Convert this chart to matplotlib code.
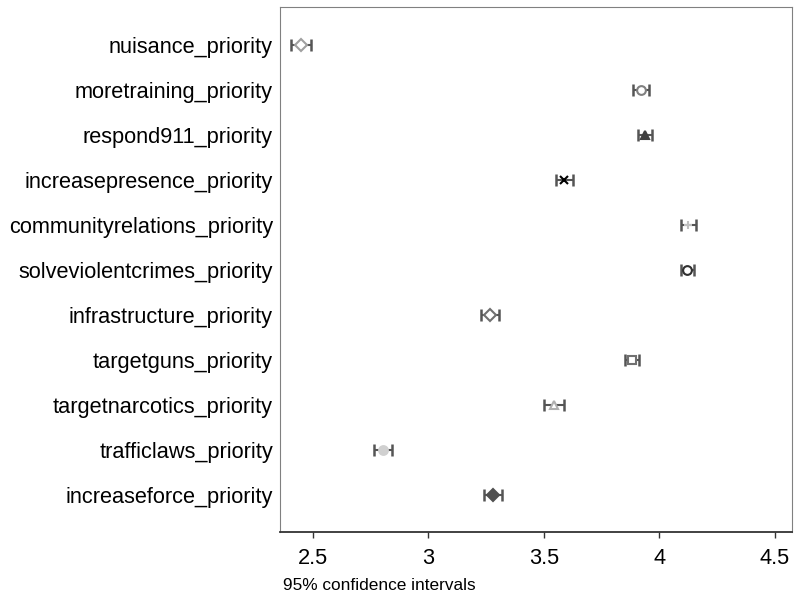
import numpy as np
from matplotlib import pyplot as plt

plt.rcParams['font.family'] = ['Liberation Sans', 'DejaVu Sans']

# priority items, top to bottom
labels = ["nuisance_priority", "moretraining_priority", "respond911_priority",
          "increasepresence_priority", "communityrelations_priority",
          "solveviolentcrimes_priority", "infrastructure_priority",
          "targetguns_priority", "targetnarcotics_priority",
          "trafficlaws_priority", "increaseforce_priority"]
means = [2.448, 3.922, 3.940, 3.589, 4.126, 4.121, 3.268, 3.883, 3.543, 2.803, 3.281]
lower = [2.405, 3.887, 3.910, 3.553, 4.095, 4.092, 3.228, 3.852, 3.500, 2.763, 3.242]
upper = [2.490, 3.957, 3.970, 3.626, 4.157, 4.150, 3.307, 3.914, 3.586, 2.843, 3.320]

# marker style per row: (marker, face, edge)
stiler = [("D", "white", "#a0a0a0"), ("o", "white", "#808080"), ("^", "#404040", "#404040"),
          ("x", "black", "black"), ("+", "#c0c0c0", "#c0c0c0"), ("o", "white", "#303030"),
          ("D", "white", "#707070"), ("s", "white", "#707070"), ("^", "white", "#b0b0b0"),
          ("o", "#d0d0d0", "#d0d0d0"), ("D", "#505050", "#505050")]

fig = plt.figure(figsize=(7.95, 5.96), dpi=100)
ax = fig.add_axes([0.352, 0.107, 0.644, 0.881])

for i in range(len(labels)):
    m, fc, ec = stiler[i]
    ax.errorbar(means[i], i, xerr=[[means[i] - lower[i]], [upper[i] - means[i]]],
                fmt="none", ecolor="#555555", elinewidth=1.5, capsize=4.5, capthick=1.8)
    ax.plot(means[i], i, marker=m, markerfacecolor=fc, markeredgecolor=ec,
            markersize=6.3, markeredgewidth=1.5, linestyle="none")

ax.set_xlim(2.357, 4.574)
ax.set_ylim(10.82, -0.84)
ax.set_yticks(range(len(labels)))
ax.set_yticklabels(labels, fontsize=15.7)
ax.tick_params(axis="y", length=0, pad=5)
ax.set_xticks([2.5, 3, 3.5, 4, 4.5])
ax.set_xticklabels(["2.5", "3", "3.5", "4", "4.5"], fontsize=15.7)
ax.tick_params(axis="x", length=4.5, width=1, color="#333333", pad=6.5)

for s in ["top", "right", "left"]:
    ax.spines[s].set_color("#808080")
ax.spines["bottom"].set_color("#333333")
ax.spines["bottom"].set_linewidth(1.3)

fig.text(283 / 795, 1 - 585 / 596, "95% confidence intervals", fontsize=12.4,
         ha="left", va="center")

plt.savefig("out.png", dpi=100)
